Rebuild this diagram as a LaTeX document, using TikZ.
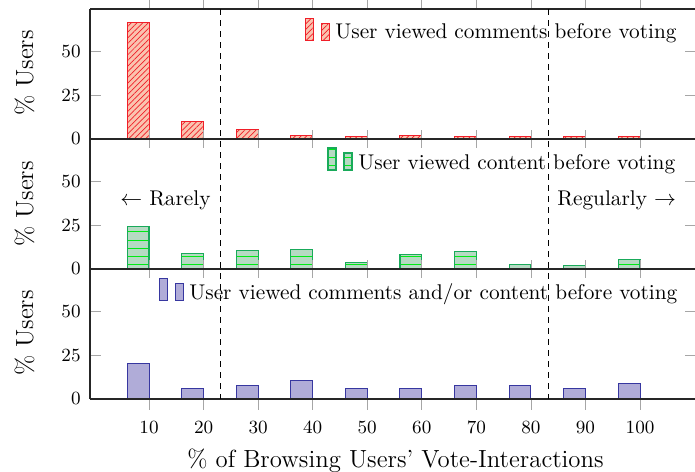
\documentclass[tikz,border=0pt]{standalone}
\usetikzlibrary{patterns.meta,calc}
\definecolor{redline}{RGB}{240,30,40}
\definecolor{redfill}{RGB}{250,195,175}
\definecolor{grline}{RGB}{25,170,90}
\definecolor{grfill}{RGB}{182,218,195}
\definecolor{grhatch}{RGB}{0,235,20}
\definecolor{blline}{RGB}{55,55,160}
\definecolor{blfill}{RGB}{176,172,216}
\tikzset{
  redbar/.style={draw=redline, fill=redfill, line width=0.5pt,
    postaction={pattern color=redline, pattern={Lines[angle=45,distance=2pt,line width=0.35pt]}}},
  greenfillbox/.style={fill=grfill},
  greenhatch/.style={draw=grhatch, line width=0.5pt},
  greenedge/.style={draw=grline, line width=0.6pt},
  bluebar/.style={draw=blline, fill=blfill, line width=0.5pt},
  tickgray/.style={draw=black!35, line width=0.4pt},
  axisline/.style={draw=black!85, line width=0.6pt},
  vsep/.style={draw=black, line width=0.5pt, dash pattern=on 3pt off 2.5pt},
  legtext/.style={font=\fontsize{10.65}{12}\selectfont, inner sep=0pt},
  ticklab/.style={font=\fontsize{9.3}{11}\selectfont, inner sep=0pt},
  axlab/.style={font=\fontsize{12.4}{14}\selectfont, inner sep=0pt}
}
% green hatched bar: x1, x2, y bottom, y top (pixel units, y downward)
\newcommand{\greenbarbox}[4]{%
  \path[greenfillbox] ({#1},{#3}) rectangle ({#2},{#4});
  \begin{scope}
    \clip ({#1},{#3}) rectangle ({#2},{#4});
    \foreach \kk in {0,...,6}
      {\draw[greenhatch] ({#1},{#3-4.3-8.2*\kk}) -- ({#2},{#3-4.3-8.2*\kk});}
  \end{scope}
  \draw[greenedge] ({#1},{#3}) rectangle ({#2},{#4});
}
\begin{document}
\begin{tikzpicture}[x=0.5pt,y=-0.5pt]
\useasboundingbox (0,0) rectangle (695,471);
% bars
\foreach \v/\h in {10/66.6,20/9.9,30/5.3,40/2.0,50/1.5,60/1.9,70/1.5,80/1.5,90/1.5,100/1.5}
  {\path[redbar] ({94.44+5.456*(\v-4)},139) rectangle ({94.44+5.456*\v},{139-1.752*\h});}
\foreach \v/\h in {10/24.2,20/9.0,30/10.5,40/11.2,50/3.8,60/8.4,70/9.9,80/2.7,90/1.9,100/5.3}
  {\greenbarbox{94.44+5.456*(\v-4)}{94.44+5.456*\v}{269}{269-1.752*\h}}
\foreach \v/\h in {10/20.2,20/5.9,30/7.8,40/10.5,50/5.9,60/5.9,70/7.8,80/7.8,90/5.9,100/9}
  {\path[bluebar] ({94.44+5.456*(\v-4)},399) rectangle ({94.44+5.456*\v},{399-1.752*\h});}
% x ticks
\foreach \v in {10,20,...,100}{
  \draw[tickgray] ({94.44+5.456*\v},0) -- ({94.44+5.456*\v},9);
  \draw[tickgray] ({94.44+5.456*\v},130) -- ({94.44+5.456*\v},148);
  \draw[tickgray] ({94.44+5.456*\v},260) -- ({94.44+5.456*\v},278);
  \draw[tickgray] ({94.44+5.456*\v},399) -- ({94.44+5.456*\v},410);
  \node[ticklab, anchor=base] (xt\v) at ({94.44+5.456*\v},433) {\v};
}
% y ticks and labels
\foreach \z/\m [count=\k] in {139/73,269/204,399/333}{
  \foreach \t in {0,25,50}{
    \draw[tickgray] (90,{\z-1.752*\t}) -- (101,{\z-1.752*\t});
    \draw[tickgray] (685,{\z-1.752*\t}) -- (697,{\z-1.752*\t});
    \node[ticklab, anchor=east] (yt\k\t) at (81,{\z-1.752*\t}) {\t};
  }
  \node[axlab, rotate=90, anchor=base] (ylab\k) at (33,\m) {\% Users};
}
% axis lines
\draw[axisline] (90,9) -- (697,9);
\draw[axisline] (90,139) -- (697,139);
\draw[axisline] (90,269) -- (697,269);
\draw[axisline] (90,399) -- (697,399);
\draw[axisline] (90,9) -- (90,399);
% separators
\draw[vsep] (220,9) -- (220,399);
\draw[vsep] (548,9) -- (548,399);
% legends
\node[legtext, anchor=base west] (leg1) at (335,39) {User viewed comments before voting};
\path[redbar] ($(leg1.base west)+(-30,-21)$) rectangle ($(leg1.base west)+(-22,1)$);
\path[redbar] ($(leg1.base west)+(-14,-16)$) rectangle ($(leg1.base west)+(-6,1)$);
\node[legtext, anchor=base west] (leg2) at (358,169) {User viewed content before voting};
\greenbarbox{328}{336}{170}{148}
\greenbarbox{344}{352}{170}{153}
\node[legtext, anchor=base west] (leg3) at (189,299) {User viewed comments and/or content before voting};
\path[bluebar] ($(leg3.base west)+(-30,-21)$) rectangle ($(leg3.base west)+(-22,1)$);
\path[bluebar] ($(leg3.base west)+(-14,-16)$) rectangle ($(leg3.base west)+(-6,1)$);
% annotations
\node[legtext, anchor=base east] (rarely) at (211,205) {$\leftarrow$ Rarely};
\node[legtext, anchor=base west] (regularly) at (557,205) {Regularly $\rightarrow$};
% x label
\node[axlab, anchor=base] (xlab) at (395.5,467) {\% of Browsing Users' Vote-Interactions};
\end{tikzpicture}
\end{document}
